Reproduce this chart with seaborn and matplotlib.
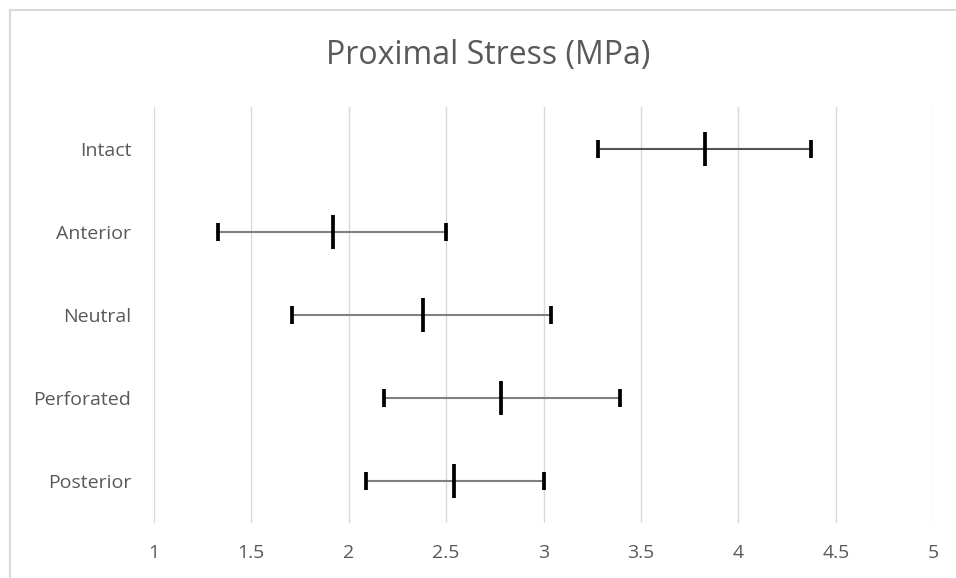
import numpy as np
import matplotlib.pyplot as plt
import matplotlib.lines as mlines
import pandas as pd
import seaborn as sns

# valores
categorias = ['Intact', 'Anterior', 'Neutral', 'Perforated', 'Posterior']
media = [3.83, 1.92, 2.38, 2.78, 2.54]
minimo = [3.28, 1.33, 1.71, 2.18, 2.09]
maximo = [4.37, 2.50, 3.04, 3.39, 3.00]
cor_linha = ['#555555', '#808080', '#808080', '#808080', '#808080']
x_ticks = [1, 1.5, 2, 2.5, 3, 3.5, 4, 4.5, 5]

df = pd.DataFrame({'Categoria': categorias, 'Media': media,
                   'Min': minimo, 'Max': maximo})

sns.set_theme(style='whitegrid')
plt.rcParams['font.family'] = ['Open Sans', 'DejaVu Sans']
cinza_texto = '#595959'

W, H = 956, 578
fig = plt.figure(figsize=(W / 100, H / 100), dpi=100)
ax = fig.add_axes([153.7 / W, 1 - 522.7 / H, (933.3 - 153.7) / W, (522.7 - 107.3) / H])

# moldura do grafico (so aparecem topo e esquerda)
borda = dict(color='#d9d9d9', linewidth=1.5, transform=fig.transFigure)
fig.lines.append(mlines.Line2D([9.5 / W, 1.0], [1 - 9.5 / H] * 2, **borda))
fig.lines.append(mlines.Line2D([9.5 / W] * 2, [0.0, 1 - 9.5 / H], **borda))

# linhas horizontais entre min e max
for i, row in df.iterrows():
    ax.hlines(row['Categoria'], row['Min'], row['Max'],
              colors=cor_linha[i], linewidth=1.5, zorder=2)

# marcas nas pontas e no centro
for col, tam in [('Min', 180), ('Max', 180), ('Media', 620)]:
    sns.scatterplot(data=df, x=col, y='Categoria', marker='|', s=tam, color='black',
                    linewidth=2.7, ax=ax, zorder=3)

ax.set_xlim(1, 5)
ax.set_ylim(4.5, -0.5)
ax.set_xticks(x_ticks)
ax.set_xticklabels([f'{t:g}' for t in x_ticks])
ax.grid(True, axis='x', color='#d9d9d9', linewidth=1.0)
ax.grid(False, axis='y')
for s in ax.spines.values():
    s.set_visible(False)
ax.tick_params(axis='x', length=0, pad=15, labelsize=14, labelcolor=cinza_texto)
ax.tick_params(axis='y', length=0, pad=16, labelsize=14, labelcolor=cinza_texto)
ax.set_xlabel('')
ax.set_ylabel('')

fig.text(488 / W, 1 - 64 / H, 'Proximal Stress (MPa)', ha='center', va='baseline',
         fontsize=23, color=cinza_texto)

fig.savefig('out.png', dpi=100)
